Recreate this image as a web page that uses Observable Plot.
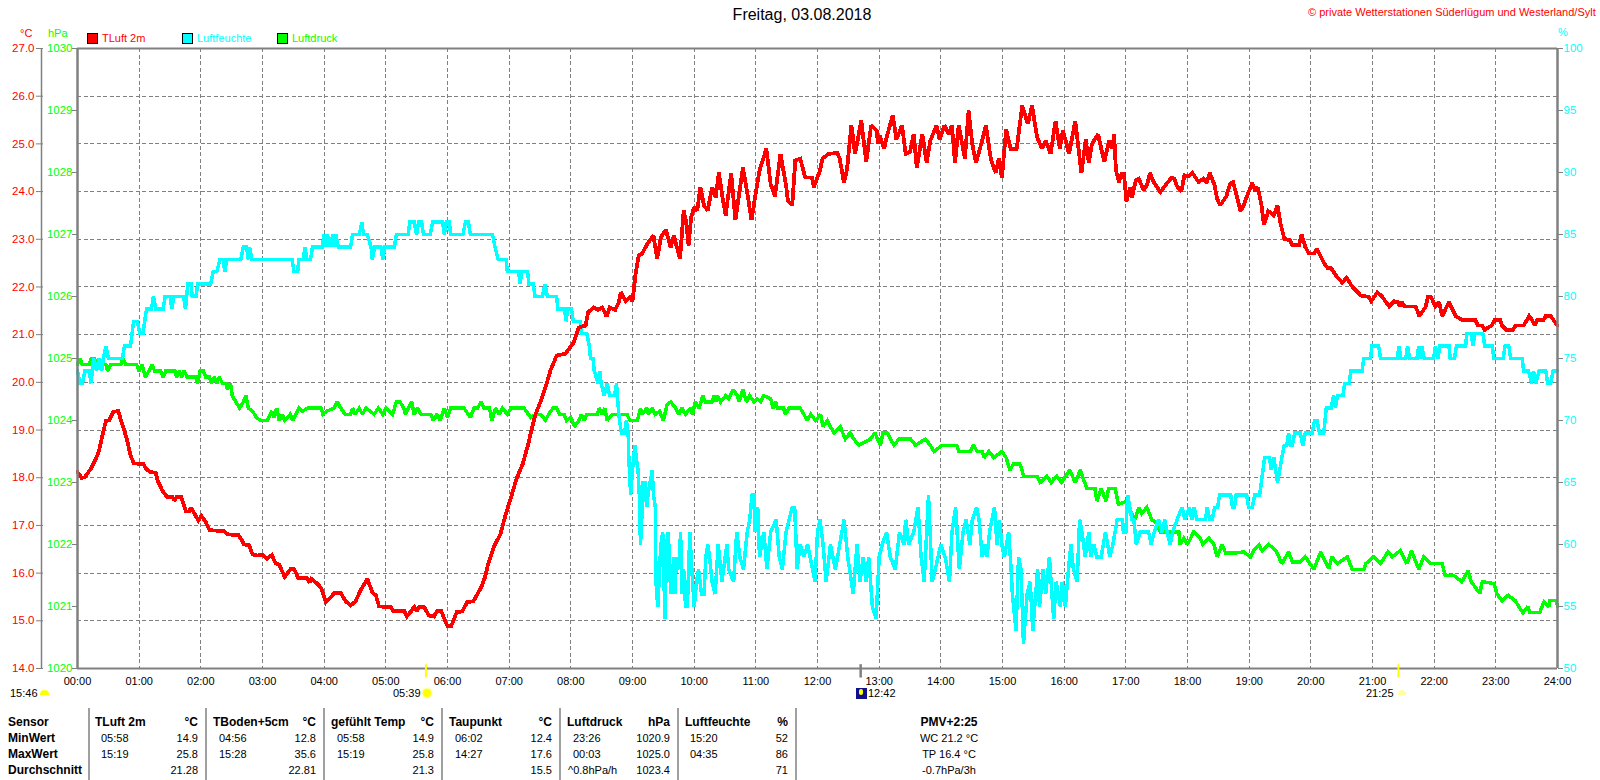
<!DOCTYPE html>
<html><head><meta charset="utf-8">
<script src="https://cdn.jsdelivr.net/npm/d3@7"></script>
<script src="https://cdn.jsdelivr.net/npm/@observablehq/plot@0.6"></script>
<style>
html,body{margin:0;padding:0;background:#fff;}
#page{position:relative;width:1600px;height:780px;overflow:hidden;font-family:"Liberation Sans",Arial,sans-serif;font-size:11px;color:#000;}
#page svg{display:block;position:absolute;left:0;top:0;}
.t{position:absolute;white-space:nowrap;line-height:14px;transform:translateY(-50%);}
.r{transform:translate(-100%,-50%);}
.c{transform:translate(-50%,-50%);}
.b{font-weight:bold;font-size:12px;}
.box{position:absolute;}
</style></head><body><div id="page"></div>
<script>
const titleText = "Freitag, 03.08.2018";
const copyrightText = "© private Wetterstationen Süderlügum und Westerland/Sylt";
const seriesNames = ["TLuft 2m", "Luftfeuchte", "Luftdruck"];
const seriesColors = ["#ff0000", "#00ffff", "#00ff00"];
const tempTicks = [14,15,16,17,18,19,20,21,22,23,24,25,26,27];
const pressureTicks = [1020,1021,1022,1023,1024,1025,1026,1027,1028,1029,1030];
const humidityTicks = [50,55,60,65,70,75,80,85,90,95,100];
const hourTicks = d3.range(0,25);

// readings: [hour of day, value]
const tempReadings = [[0,18.12],[.065,18],[.12,18.01],[.216,18.19],[.3,18.4],[.35,18.57],[.405,18.89],[.46,19.19],[.51,19.2],[.58,19.38],[.66,19.4],[.73,19.1],[.8,18.82],[.854,18.5],[.91,18.3],[1.07,18.29],[1.11,18.19],[1.18,18.12],[1.27,18.1],[1.3,17.94],[1.38,17.72],[1.45,17.6],[1.54,17.6],[1.57,17.52],[1.61,17.6],[1.68,17.6],[1.76,17.29],[1.81,17.29],[1.84,17.37],[1.9,17.24],[1.96,17.1],[2.01,17.2],[2.08,17.07],[2.14,16.9],[2.38,16.88],[2.44,16.81],[2.61,16.8],[2.66,16.7],[2.7,16.6],[2.78,16.59],[2.84,16.39],[2.92,16.37],[3,16.39],[3.07,16.3],[3.15,16.38],[3.21,16.21],[3.27,16.18],[3.36,15.92],[3.46,16.09],[3.51,16.09],[3.58,15.9],[3.72,15.9],[3.76,15.8],[3.79,15.88],[3.88,15.79],[3.95,15.69],[4.03,15.39],[4.11,15.5],[4.17,15.59],[4.27,15.58],[4.35,15.41],[4.43,15.32],[4.51,15.41],[4.59,15.64],[4.7,15.88],[4.78,15.6],[4.84,15.53],[4.89,15.3],[5.08,15.29],[5.12,15.2],[5.3,15.2],[5.34,15.09],[5.41,15.2],[5.46,15.29],[5.5,15.2],[5.54,15.29],[5.62,15.29],[5.7,15.11],[5.78,15.09],[5.83,15.2],[5.9,15.2],[5.97,14.97],[6,14.89],[6.06,14.89],[6.15,15.18],[6.24,15.2],[6.32,15.39],[6.42,15.41],[6.55,15.71],[6.61,15.92],[6.66,16.2],[6.75,16.55],[6.86,16.82],[6.93,17.17],[7.03,17.59],[7.12,17.98],[7.22,18.29],[7.31,18.71],[7.36,18.99],[7.43,19.34],[7.51,19.6],[7.59,19.9],[7.67,20.25],[7.77,20.56],[7.91,20.6],[8.05,20.84],[8.13,21.15],[8.24,21.19],[8.28,21.47],[8.37,21.57],[8.44,21.52],[8.51,21.57],[8.58,21.38],[8.63,21.57],[8.72,21.52],[8.78,21.68],[8.81,21.89],[8.89,21.7],[8.96,21.78],[9,21.7],[9.05,22.27],[9.1,22.66],[9.15,22.69],[9.24,22.9],[9.34,23.08],[9.4,22.59],[9.46,23.04],[9.54,23.2],[9.62,22.83],[9.67,23.08],[9.77,22.59],[9.83,23.6],[9.87,23.36],[9.91,22.87],[9.95,23.46],[10,23.67],[10.05,23.6],[10.1,24.09],[10.16,23.71],[10.22,23.6],[10.29,24.09],[10.35,23.88],[10.4,24.4],[10.46,23.88],[10.51,23.5],[10.6,24.39],[10.67,23.4],[10.79,24.5],[10.86,23.99],[10.93,23.4],[11,23.99],[11.06,24.44],[11.17,24.9],[11.24,24.16],[11.31,23.9],[11.4,24.79],[11.49,24.13],[11.52,23.81],[11.59,23.71],[11.64,24.65],[11.72,24.69],[11.8,24.3],[11.91,24.29],[11.94,24.09],[12.04,24.44],[12.08,24.69],[12.18,24.79],[12.32,24.81],[12.36,24.69],[12.43,24.18],[12.48,24.48],[12.55,25.39],[12.61,24.79],[12.71,25.49],[12.79,24.62],[12.87,25.39],[12.96,25.28],[12.98,25],[13.01,25.18],[13.08,24.9],[13.13,25.18],[13.22,25.6],[13.28,25.09],[13.37,25.39],[13.43,24.79],[13.5,24.83],[13.56,25.21],[13.61,24.5],[13.7,25.21],[13.77,24.6],[13.83,25.07],[13.93,25.39],[13.98,25.09],[14.06,25.39],[14.13,25.2],[14.18,25.39],[14.23,24.6],[14.29,25.39],[14.39,24.69],[14.45,25.7],[14.51,25],[14.57,24.6],[14.67,25.07],[14.73,25.39],[14.81,24.69],[14.89,24.39],[14.94,24.69],[14.99,24.29],[15.06,25.3],[15.13,24.9],[15.23,24.9],[15.32,25.8],[15.41,25.42],[15.48,25.8],[15.56,25.14],[15.64,24.9],[15.7,25.07],[15.78,24.79],[15.86,25.48],[15.93,24.9],[15.98,25.28],[16.08,24.79],[16.18,25.48],[16.28,24.39],[16.35,25.09],[16.4,24.6],[16.45,25],[16.55,25.2],[16.65,24.62],[16.73,25.07],[16.78,24.9],[16.81,25.2],[16.84,24.44],[16.89,24.2],[16.93,24.37],[16.97,24.37],[17.01,23.79],[17.07,24.09],[17.1,23.88],[17.16,24.23],[17.21,24.27],[17.29,24.02],[17.35,24.16],[17.39,24.39],[17.45,24.2],[17.56,23.99],[17.64,24.13],[17.74,24.29],[17.79,24.27],[17.83,24.11],[17.9,24],[17.95,24.34],[18.02,24.32],[18.08,24.39],[18.18,24.2],[18.26,24.27],[18.31,24.18],[18.36,24.39],[18.44,24.13],[18.48,23.85],[18.53,23.71],[18.63,23.9],[18.69,24.16],[18.74,24.2],[18.81,23.85],[18.86,23.59],[18.91,23.71],[18.97,23.92],[19.05,24.18],[19.1,24.01],[19.14,24.09],[19.2,23.71],[19.24,23.3],[19.31,23.59],[19.4,23.5],[19.46,23.71],[19.51,23.32],[19.57,23.01],[19.66,22.98],[19.7,22.88],[19.81,22.88],[19.85,23.1],[19.91,22.84],[19.97,22.7],[20.05,22.7],[20.1,22.8],[20.22,22.49],[20.27,22.4],[20.33,22.39],[20.43,22.2],[20.51,22.09],[20.58,22.19],[20.67,22.01],[20.81,21.82],[20.94,21.79],[20.98,21.7],[21.08,21.89],[21.16,21.79],[21.27,21.59],[21.35,21.7],[21.41,21.68],[21.44,21.59],[21.48,21.68],[21.52,21.59],[21.7,21.59],[21.76,21.39],[21.86,21.58],[21.9,21.79],[21.95,21.79],[22.02,21.59],[22.08,21.68],[22.13,21.39],[22.24,21.68],[22.35,21.39],[22.46,21.3],[22.67,21.3],[22.71,21.19],[22.78,21.19],[22.82,21.1],[22.93,21.19],[22.98,21.3],[23.07,21.3],[23.1,21.19],[23.17,21.1],[23.28,21.1],[23.32,21.19],[23.45,21.19],[23.54,21.39],[23.59,21.3],[23.63,21.19],[23.67,21.3],[23.77,21.3],[23.81,21.39],[23.89,21.39],[24,21.19]];

const humidityReadings = [[0,74],[.04,73],[.08,73],[.12,74],[.19,74],[.22,73],[.26,75],[.31,74],[.35,75],[.39,74],[.42,75],[.46,76],[.5,75],[.73,75],[.76,76],[.86,76],[.91,78],[.97,78],[1.01,77],[1.06,77],[1.12,79],[1.2,79],[1.23,80],[1.27,79],[1.39,79],[1.42,80],[1.5,80],[1.53,79],[1.56,80],[1.72,80],[1.75,79],[1.79,81],[1.84,81],[1.86,80],[1.92,80],[1.95,81],[2.16,81],[2.2,82],[2.26,82],[2.31,83],[2.36,83],[2.39,82],[2.42,83],[2.65,83],[2.69,84],[2.74,84],[2.77,83],[2.79,84],[2.83,83],[3.48,83],[3.51,82],[3.57,82],[3.59,83],[3.66,83],[3.69,84],[3.72,83],[3.78,83],[3.81,84],[3.97,84],[4,85],[4.03,84],[4.05,85],[4.1,84],[4.14,85],[4.16,84],[4.19,85],[4.23,84],[4.43,84],[4.46,85],[4.57,85],[4.61,86],[4.64,85],[4.7,85],[4.76,84],[4.78,83],[4.82,84],[4.92,84],[4.95,83],[4.98,84],[5.14,84],[5.17,85],[5.36,85],[5.39,86],[5.46,86],[5.5,85],[5.53,86],[5.58,86],[5.61,85],[5.72,85],[5.76,86],[5.92,86],[5.95,85],[5.98,86],[6.03,86],[6.05,85],[6.25,85],[6.29,86],[6.34,86],[6.37,85],[6.73,85],[6.77,84],[6.82,83],[6.95,83],[6.97,82],[7.15,82],[7.18,81],[7.2,82],[7.3,82],[7.32,81],[7.39,81],[7.42,80],[7.54,80],[7.58,81],[7.62,80],[7.77,80],[7.79,79],[7.9,79],[7.92,78],[7.95,79],[8.01,79],[8.04,78],[8.15,78],[8.17,77],[8.26,77],[8.3,76],[8.32,75],[8.36,75],[8.38,74],[8.44,73],[8.47,74],[8.49,73],[8.54,72],[8.59,73],[8.63,72],[8.71,72],[8.74,73],[8.77,71],[8.79,70],[8.82,69],[8.87,69],[8.9,70],[8.93,69],[8.94,67],[8.97,64],[9,66],[9.04,68],[9.06,67],[9.09,66],[9.11,64],[9.13,60],[9.15,62],[9.17,65],[9.2,65],[9.23,63],[9.25,64],[9.32,66],[9.34,64],[9.37,63],[9.38,57],[9.41,55],[9.44,58],[9.46,60],[9.49,61],[9.51,57],[9.53,54],[9.55,60],[9.58,61],[9.62,56],[9.67,59],[9.69,56],[9.71,59],[9.75,58],[9.78,61],[9.8,56],[9.83,58],[9.86,55],[9.89,55],[9.93,61],[9.95,59],[10,55],[10.04,57],[10.07,58],[10.12,56],[10.16,56],[10.19,59],[10.22,60],[10.25,59],[10.29,57],[10.34,56],[10.39,60],[10.45,57],[10.53,60],[10.56,58],[10.64,57],[10.69,61],[10.74,59],[10.8,58],[10.86,61],[10.9,62],[10.94,64],[10.97,64],[10.99,61],[11.03,63],[11.06,59],[11.13,61],[11.18,58],[11.24,61],[11.33,62],[11.38,59],[11.43,58],[11.49,61],[11.59,63],[11.63,63],[11.67,58],[11.72,60],[11.78,59],[11.84,60],[11.92,58],[11.96,57],[12,61],[12.04,62],[12.09,60],[12.14,57],[12.21,60],[12.29,58],[12.36,60],[12.43,62],[12.49,59],[12.58,56],[12.64,60],[12.69,57],[12.74,59],[12.79,57],[12.83,59],[12.89,55],[12.95,54],[13,59],[13.05,60],[13.12,61],[13.18,59],[13.26,58],[13.33,61],[13.4,60],[13.43,62],[13.48,60],[13.56,61],[13.63,63],[13.68,59],[13.73,57],[13.8,64],[13.86,57],[13.91,58],[14,60],[14.07,59],[14.14,57],[14.18,61],[14.24,63],[14.3,58],[14.36,61],[14.41,62],[14.47,60],[14.51,62],[14.58,63],[14.62,62],[14.67,59],[14.72,60],[14.75,59],[14.79,61],[14.87,63],[14.91,60],[14.95,62],[14.99,60],[15.03,59],[15.1,61],[15.14,58],[15.16,56],[15.22,53],[15.26,59],[15.3,58],[15.34,52],[15.4,56],[15.45,57],[15.49,53],[15.57,58],[15.6,55],[15.66,58],[15.7,56],[15.76,59],[15.83,54],[15.87,57],[15.94,55],[15.97,57],[16.02,55],[16.07,58],[16.11,60],[16.15,58],[16.21,57],[16.25,62],[16.29,61],[16.34,59],[16.4,61],[16.43,59],[16.48,60],[16.53,59],[16.6,59],[16.67,61],[16.74,59],[16.79,60],[16.86,62],[16.94,62],[16.96,61],[17,61],[17.03,64],[17.1,62],[17.13,62],[17.17,60],[17.23,61],[17.37,61],[17.41,60],[17.46,61],[17.53,62],[17.59,61],[17.63,62],[17.67,61],[17.72,60],[17.76,61],[17.83,62],[17.91,63],[17.96,62],[18.03,63],[18.07,62],[18.11,63],[18.15,62],[18.29,62],[18.32,63],[18.36,62],[18.4,62],[18.44,63],[18.49,63],[18.52,64],[18.7,64],[18.73,63],[18.76,63],[18.79,64],[18.96,64],[18.99,63],[19.05,63],[19.09,64],[19.17,64],[19.21,65.5],[19.25,67],[19.33,67],[19.36,66],[19.4,67],[19.46,65],[19.53,67],[19.57,68],[19.61,68],[19.64,69],[19.67,68],[19.7,68],[19.74,69],[19.83,69],[19.87,68],[19.91,69],[20.02,69],[20.06,70],[20.1,70],[20.14,69],[20.21,69],[20.25,71],[20.33,71],[20.37,72],[20.4,71],[20.43,72],[20.52,72],[20.55,73],[20.62,73],[20.65,74],[20.83,74],[20.86,75],[20.97,75],[20.99,76],[21.1,76],[21.13,75],[21.4,75],[21.43,76],[21.46,75],[21.54,75],[21.57,76],[21.6,75],[21.72,75],[21.75,76],[21.78,75],[21.8,76],[21.84,75],[21.99,75],[22.02,76],[22.06,75],[22.09,76],[22.24,76],[22.26,75],[22.33,75],[22.36,76],[22.51,76],[22.53,77],[22.6,77],[22.63,76],[22.66,77],[22.79,77],[22.82,76],[22.94,76],[22.97,75],[23.12,75],[23.15,76],[23.21,76],[23.24,75],[23.43,75],[23.45,74],[23.53,74],[23.58,73],[23.61,74],[23.65,73],[23.7,74],[23.81,74],[23.84,73],[23.89,73],[23.93,74],[24,74]];

const pressureReadings = [[0,1024.9],[.04,1025],[.08,1024.9],[.19,1024.9],[.22,1025],[.27,1025],[.32,1024.9],[.46,1024.9],[.49,1024.8],[.54,1024.9],[.7,1024.9],[.74,1025],[.78,1024.9],[.96,1024.9],[1,1024.8],[1.05,1024.9],[1.1,1024.7],[1.16,1024.8],[1.21,1024.9],[1.25,1024.8],[1.35,1024.8],[1.39,1024.7],[1.43,1024.8],[1.58,1024.8],[1.61,1024.7],[1.65,1024.8],[1.69,1024.7],[1.73,1024.8],[1.78,1024.7],[1.92,1024.7],[1.95,1024.6],[1.99,1024.8],[2.04,1024.8],[2.08,1024.7],[2.14,1024.7],[2.17,1024.6],[2.22,1024.7],[2.26,1024.6],[2.3,1024.7],[2.35,1024.6],[2.41,1024.6],[2.43,1024.5],[2.48,1024.6],[2.51,1024.4],[2.57,1024.3],[2.63,1024.2],[2.69,1024.3],[2.73,1024.4],[2.77,1024.2],[2.84,1024.15],[2.9,1024.05],[2.97,1024],[3.08,1024],[3.15,1024.15],[3.19,1024.05],[3.23,1024.2],[3.27,1024],[3.32,1024.1],[3.36,1024],[3.45,1024.1],[3.49,1024],[3.54,1024.1],[3.59,1024.2],[3.65,1024.15],[3.73,1024.2],[3.95,1024.2],[3.98,1024.1],[4.04,1024.15],[4.16,1024.2],[4.21,1024.3],[4.27,1024.2],[4.34,1024.1],[4.43,1024.1],[4.46,1024.2],[4.5,1024.1],[4.57,1024.2],[4.62,1024.1],[4.68,1024.2],[4.81,1024.1],[4.88,1024.2],[4.95,1024.1],[5,1024.2],[5.11,1024.1],[5.17,1024.3],[5.23,1024.3],[5.29,1024.2],[5.32,1024.1],[5.42,1024.3],[5.46,1024.1],[5.51,1024.2],[5.57,1024.1],[5.73,1024.1],[5.77,1024],[5.83,1024.1],[5.88,1024],[5.95,1024.2],[6,1024.05],[6.05,1024.2],[6.27,1024.2],[6.37,1024.05],[6.43,1024.2],[6.49,1024.2],[6.54,1024.3],[6.59,1024.2],[6.68,1024.2],[6.72,1024],[6.78,1024.2],[6.84,1024.1],[6.89,1024.2],[6.97,1024.1],[7.03,1024.2],[7.24,1024.2],[7.35,1024.05],[7.43,1024.1],[7.51,1024.1],[7.59,1024],[7.64,1024.1],[7.71,1024.2],[7.77,1024.2],[7.82,1024.1],[7.89,1024.1],[7.93,1024],[8,1024.05],[8.06,1023.9],[8.13,1024],[8.17,1024.1],[8.22,1024],[8.26,1024.1],[8.43,1024.1],[8.46,1024.2],[8.51,1024.1],[8.55,1024.2],[8.59,1024],[8.67,1024.1],[8.91,1024.1],[8.96,1024],[9.08,1024],[9.13,1024.2],[9.16,1024.1],[9.23,1024.2],[9.26,1024.1],[9.32,1024.2],[9.37,1024.1],[9.44,1024.15],[9.5,1024],[9.56,1024.25],[9.62,1024.3],[9.7,1024.2],[9.75,1024.1],[9.8,1024.2],[9.86,1024.1],[9.94,1024.2],[9.97,1024.1],[10.02,1024.3],[10.08,1024.2],[10.14,1024.4],[10.18,1024.3],[10.29,1024.3],[10.32,1024.4],[10.35,1024.3],[10.38,1024.4],[10.43,1024.3],[10.51,1024.4],[10.56,1024.35],[10.63,1024.5],[10.7,1024.4],[10.73,1024.3],[10.79,1024.5],[10.85,1024.3],[10.9,1024.4],[10.97,1024.3],[11.02,1024.35],[11.08,1024.3],[11.13,1024.4],[11.24,1024.35],[11.28,1024.2],[11.32,1024.3],[11.35,1024.2],[11.45,1024.2],[11.48,1024.1],[11.54,1024.2],[11.72,1024.2],[11.78,1024.1],[11.83,1024],[11.89,1024.1],[11.97,1024],[12.05,1024.1],[12.09,1023.9],[12.16,1024],[12.21,1023.9],[12.27,1023.8],[12.37,1023.9],[12.45,1023.7],[12.53,1023.8],[12.59,1023.7],[12.67,1023.6],[12.86,1023.7],[12.93,1023.8],[13.02,1023.6],[13.06,1023.8],[13.13,1023.8],[13.24,1023.6],[13.32,1023.7],[13.51,1023.7],[13.59,1023.6],[13.75,1023.7],[13.83,1023.6],[13.89,1023.5],[14.02,1023.6],[14.26,1023.6],[14.29,1023.5],[14.48,1023.5],[14.53,1023.6],[14.59,1023.5],[14.67,1023.5],[14.7,1023.4],[14.78,1023.5],[14.86,1023.4],[14.99,1023.5],[15.06,1023.4],[15.12,1023.2],[15.18,1023.3],[15.28,1023.3],[15.32,1023.2],[15.34,1023.1],[15.56,1023.1],[15.61,1023],[15.72,1023.1],[15.79,1023],[15.88,1023.1],[15.96,1023],[16.09,1023.2],[16.18,1023],[16.26,1023.2],[16.37,1022.9],[16.5,1022.9],[16.53,1022.7],[16.6,1022.9],[16.68,1022.7],[16.72,1022.9],[16.83,1022.9],[16.88,1022.65],[17.02,1022.7],[17.07,1022.55],[17.15,1022.4],[17.21,1022.6],[17.26,1022.5],[17.34,1022.6],[17.42,1022.4],[17.5,1022.35],[17.56,1022.2],[17.86,1022.2],[17.88,1022],[17.94,1022.1],[18,1022],[18.1,1022.2],[18.21,1022.1],[18.25,1022],[18.35,1022.1],[18.43,1022],[18.48,1021.8],[18.56,1022],[18.62,1021.86],[18.75,1021.86],[18.91,1021.88],[19.02,1021.8],[19.07,1021.9],[19.16,1021.99],[19.21,1021.9],[19.32,1022],[19.43,1021.9],[19.48,1021.8],[19.53,1021.69],[19.64,1021.88],[19.7,1021.72],[19.83,1021.72],[19.91,1021.8],[20.05,1021.6],[20.16,1021.88],[20.29,1021.61],[20.34,1021.8],[20.43,1021.69],[20.59,1021.8],[20.67,1021.6],[20.86,1021.6],[20.89,1021.69],[21.02,1021.8],[21.13,1021.69],[21.25,1021.88],[21.32,1021.8],[21.45,1021.9],[21.56,1021.69],[21.63,1021.9],[21.75,1021.6],[21.83,1021.8],[21.94,1021.69],[22.13,1021.69],[22.18,1021.5],[22.32,1021.5],[22.45,1021.4],[22.55,1021.58],[22.6,1021.4],[22.74,1021.21],[22.78,1021.4],[22.97,1021.37],[23.02,1021.2],[23.1,1021.09],[23.2,1021.18],[23.32,1021.09],[23.37,1021],[23.44,1020.9],[23.52,1021],[23.55,1020.9],[23.71,1020.9],[23.78,1021.07],[23.86,1021],[23.88,1021.1],[23.98,1021.1],[24,1021]];

const sunMarkers = [5.65, 21.42];
const solarNoon = [12.7];

const statHeaders = ["TLuft 2m","TBoden+5cm","gefühlt Temp","Taupunkt","Luftdruck","Luftfeuchte"];
const statUnits = ["°C","°C","°C","°C","hPa","%"];
const minTimes = ["05:58","04:56","05:58","06:02","23:26","15:20"];
const minValues = ["14.9","12.8","14.9","12.4","1020.9","52"];
const maxTimes = ["15:19","15:28","15:19","14:27","00:03","04:35"];
const maxValues = ["25.8","35.6","25.8","17.6","1025.0","86"];
const meanValues = ["21.28","22.81","21.3","15.5","1023.4","71"];
const rowLabels = ["Sensor","MinWert","MaxWert","Durchschnitt"];
const trendText = "^0.8hPa/h";
const sideLines = ["PMV+2:25","WC 21.2 °C","TP 16.4 °C","-0.7hPa/3h"];

// the two secondary axes share the °C position scale
const fromHpa = p => 14 + (p - 1020) * 1.3;
const fromPct = h => 14 + (h - 50) * 0.26;
const toHpa = t => String(Math.round(1020 + (t - 14) / 1.3));
const toPct = t => String(Math.round(50 + (t - 14) / 0.26));
const GRID = "#808080";
const grid = {stroke: GRID, strokeWidth: 1, strokeDasharray: "4 2.5", shapeRendering: "crispEdges"};
const pad2 = h => String(h).padStart(2, "0") + ":00";
const series = (color, width) => ({stroke: color, strokeWidth: width, strokeLinejoin: "miter", strokeMiterlimit: 2, shapeRendering: "crispEdges"});

const chart = Plot.plot({
  width: 1600, height: 700,
  marginTop: 48, marginBottom: 32, marginLeft: 77, marginRight: 43,
  style: {background: "transparent", fontFamily: '"Liberation Sans",Arial,sans-serif', fontSize: "11px", color: "#000", overflow: "visible"},
  x: {domain: [0, 24], label: null},
  y: {domain: [14, 27], label: null},
  marks: [
    Plot.ruleY(tempTicks.slice(1, -1), grid),
    Plot.ruleX(hourTicks.slice(1, -1), grid),
    Plot.line(pressureReadings, {x: d => d[0], y: d => fromHpa(d[1]), ...series(seriesColors[2], 3.5)}),
    Plot.line(humidityReadings, {x: d => d[0], y: d => fromPct(d[1]), ...series(seriesColors[1], 3.5)}),
    Plot.line(tempReadings, {x: d => d[0], y: d => d[1], ...series(seriesColors[0], 3.8)}),
    Plot.ruleY([14, 27], {stroke: GRID, strokeWidth: 2}),
    Plot.ruleX([0, 24], {stroke: GRID, strokeWidth: 2.5}),
    Plot.ruleX([0], {dx: -36, y1: 14, y2: 27, stroke: GRID, strokeWidth: 1.5}),
    Plot.axisY(tempTicks, {anchor: "left", dx: -34, tickSize: 7, tickPadding: 2, fontSize: 11.5, stroke: GRID, fill: seriesColors[0], tickFormat: d3.format(".1f"), label: null}),
    Plot.axisY(pressureTicks.map(fromHpa), {anchor: "left", tickSize: 5, tickPadding: 0, fontSize: 11.5, stroke: GRID, fill: seriesColors[2], tickFormat: toHpa, label: null}),
    Plot.axisY(humidityTicks.map(fromPct), {anchor: "right", tickSize: 5, tickPadding: 1, fontSize: 11.5, stroke: GRID, fill: seriesColors[1], tickFormat: toPct, label: null}),
    Plot.axisX(hourTicks, {anchor: "bottom", tickSize: 0, tickPadding: 9, fontSize: 11, tickFormat: pad2, label: null}),
    Plot.ruleX(sunMarkers, {y1: 13.8, y2: 14.08, stroke: "#ffff00", strokeWidth: 2}),
    Plot.ruleX(solarNoon, {y1: 13.8, y2: 14.08, stroke: GRID, strokeWidth: 2.5})
  ]
});
const page = document.getElementById("page");
page.appendChild(chart);

function put(text, x, y, cls, color) {
  const el = document.createElement("div");
  el.className = "t " + (cls || "");
  el.textContent = text;
  el.style.left = x + "px";
  el.style.top = y + "px";
  if (color) el.style.color = color;
  page.appendChild(el);
}
function box(x, y, w, h, css) {
  const el = document.createElement("div");
  el.className = "box";
  el.style.cssText = `left:${x}px;top:${y}px;width:${w}px;height:${h}px;` + css;
  page.appendChild(el);
}

// header
put(titleText, 802, 15, "c");
page.lastChild.style.fontSize = "16px";
put(copyrightText, 1308, 12, "", seriesColors[0]);
put("°C", 20, 33, "", seriesColors[0]);
put("hPa", 48, 33, "", seriesColors[2]);
put("%", 1558, 32, "", seriesColors[1]);
[[87, 102], [182, 197], [277, 292]].forEach(([bx, tx], i) => {
  box(bx, 33, 9, 9, `background:${seriesColors[i]};border:1px solid #000;`);
  put(seriesNames[i], tx, 38, "", seriesColors[i]);
});

// sun times
put("15:46", 10, 693);
box(40, 690, 9, 5, "background:#ffff00;border-radius:5px 5px 0 0;");
put("05:39", 393, 693);
box(423, 689, 8, 8, "background:#ffff00;border-radius:50%;box-shadow:0 0 2px 1px #ffff66;");
box(856, 688, 11, 11, "background:#10108c;");
box(859, 689, 4, 6, "background:#ffff00;border-radius:2px;");
put("12:42", 868, 693);
put("21:25", 1366, 693);
box(1398, 690, 8, 5, "background:#ffffa0;border-radius:5px 5px 0 0;");

// statistics table
const rows = [722, 738, 754, 770];
const dividers = [88, 205, 323, 441, 559, 677, 795];
dividers.forEach(x => box(x, 708, 1.5, 72, "background:#a0a0a0;"));
rowLabels.forEach((t, i) => put(t, 8, rows[i], "b"));
const headX = [95, 213, 331, 449, 567, 685];
const timeX = [101, 219, 337, 455, 573, 690];
const rightX = [198, 316, 434, 552, 670, 788];
statHeaders.forEach((t, i) => {
  put(t, headX[i], rows[0], "b");
  put(statUnits[i], rightX[i], rows[0], "b r");
  put(minTimes[i], timeX[i], rows[1]);
  put(minValues[i], rightX[i], rows[1], "r");
  put(maxTimes[i], timeX[i], rows[2]);
  put(maxValues[i], rightX[i], rows[2], "r");
  put(meanValues[i], rightX[i], rows[3], "r");
});
put(trendText, 568, rows[3]);
sideLines.forEach((t, i) => put(t, 949, rows[i], i ? "c" : "b c"));
</script></body></html>
